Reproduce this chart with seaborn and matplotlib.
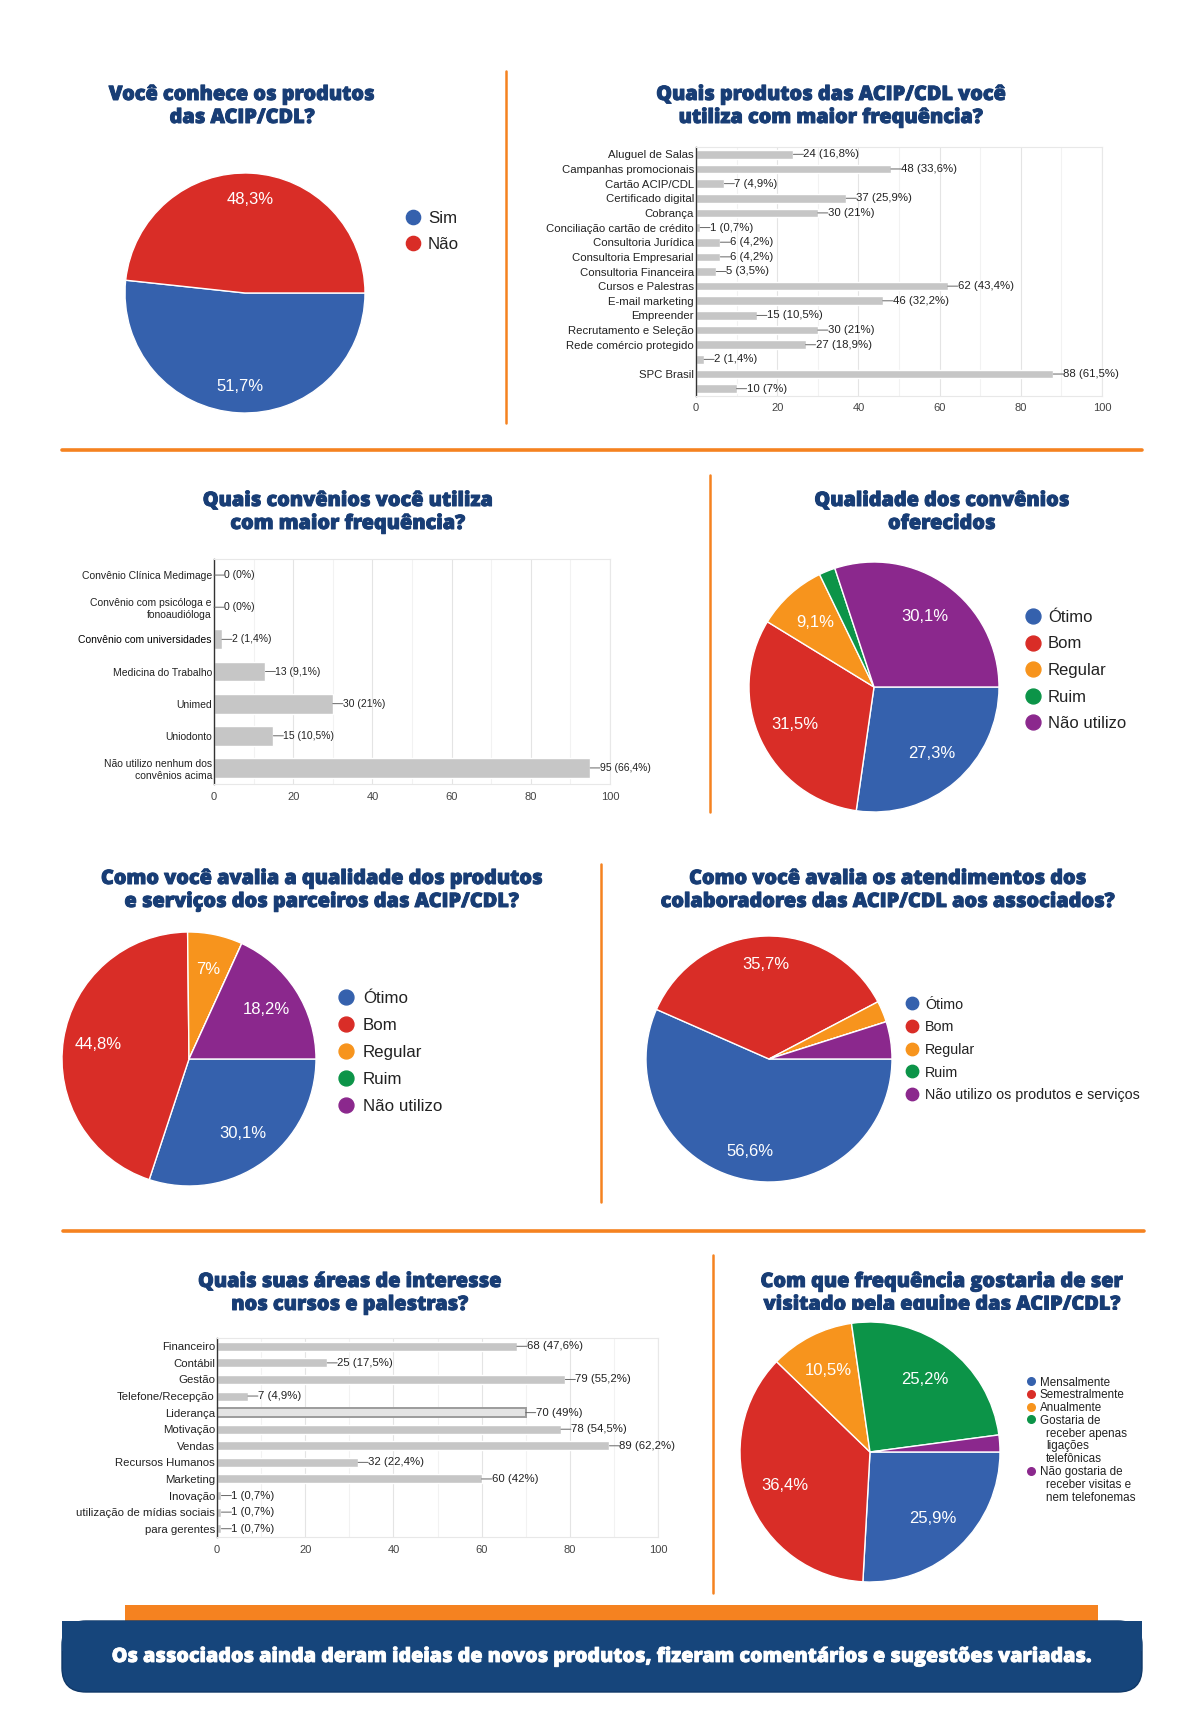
import matplotlib
matplotlib.use("Agg")
import matplotlib.pyplot as plt
import matplotlib.patheffects as pe
from matplotlib.patches import FancyBboxPatch, Rectangle
import seaborn as sns

# dados
produtos = ["Aluguel de Salas", "Campanhas promocionais", "Cartão ACIP/CDL",
            "Certificado digital", "Cobrança", "Conciliação cartão de crédito",
            "Consultoria Jurídica", "Consultoria Empresarial", "Consultoria Financeira",
            "Cursos e Palestras", "E-mail marketing", "Empreender",
            "Recrutamento e Seleção", "Rede comércio protegido", " ", "SPC Brasil", "  "]
produtos_qtd = [24, 48, 7, 37, 30, 1, 6, 6, 5, 62, 46, 15, 30, 27, 2, 88, 10]
produtos_pct = ["16,8%", "33,6%", "4,9%", "25,9%", "21%", "0,7%", "4,2%", "4,2%", "3,5%",
                "43,4%", "32,2%", "10,5%", "21%", "18,9%", "1,4%", "61,5%", "7%"]

convenios = ["Convênio Clínica Medimage", "Convênio com psicóloga e\nfonoaudióloga",
             "Convênio com universidades", "Medicina do Trabalho", "Unimed", "Uniodonto",
             "Não utilizo nenhum dos\nconvênios acima"]
convenios_qtd = [0, 0, 2, 13, 30, 15, 95]
convenios_pct = ["0%", "0%", "1,4%", "9,1%", "21%", "10,5%", "66,4%"]

cursos = ["Financeiro", "Contábil", "Gestão", "Telefone/Recepção", "Liderança", "Motivação",
          "Vendas", "Recursos Humanos", "Marketing", "Inovação",
          "utilização de mídias sociais", "para gerentes"]
cursos_qtd = [68, 25, 79, 7, 70, 78, 89, 32, 60, 1, 1, 1]
cursos_pct = ["47,6%", "17,5%", "55,2%", "4,9%", "49%", "54,5%", "62,2%", "22,4%", "42%",
              "0,7%", "0,7%", "0,7%"]

conhece_labels = ["Sim", "Não"]
conhece_pct = [51.7, 48.3]

escala = ["Ótimo", "Bom", "Regular", "Ruim", "Não utilizo"]
qual_convenios_pct = [27.3, 31.5, 9.1, 2.1, 30.1]
qual_parceiros_pct = [30.1, 44.8, 7.0, 0.0, 18.2]

atend_labels = ["Ótimo", "Bom", "Regular", "Ruim", "Não utilizo os produtos e serviços"]
atend_pct = [56.6, 35.7, 2.8, 0.0, 4.9]

visita_labels = ["Mensalmente", "Semestralmente", "Anualmente",
                 "Gostaria de\nreceber apenas\nligações\ntelefônicas",
                 "Não gostaria de\nreceber visitas e\nnem telefonemas"]
visita_pct = [25.9, 36.4, 10.5, 25.2, 2.1]

cores = ["#3561ad", "#d92d27", "#f7941d", "#0c9448", "#8b288d"]
LARANJA = "#f58220"
AZUL = "#183d75"
AZUL_RODAPE = "#16457b"
CINZA = "#c6c6c6"
TITULO = ["Open Sans", "DejaVu Sans"]
TEXTO = ["Liberation Sans", "DejaVu Sans"]

sns.set_style("white")
plt.rcParams["font.family"] = TEXTO

W, H = 1200, 1729


def caixa(x0, y0, x1, y1):
    return [x0 / W, 1 - y1 / H, (x1 - x0) / W, (y1 - y0) / H]


fig = plt.figure(figsize=(W / 100, H / 100), dpi=100)
bg = fig.add_axes([0, 0, 1, 1])
bg.set_xlim(0, W)
bg.set_ylim(H, 0)
bg.axis("off")


def titulo(x, y, s, clip=None):
    # y = linha de base da primeira linha; 23 px entre linhas
    for j, linha in enumerate(s.split("\n")):
        t = bg.text(x, y + 23 * j, linha, ha="center", va="baseline", fontsize=14.3,
                    fontweight="heavy", color=AZUL, family=TITULO,
                    path_effects=[pe.withStroke(linewidth=0.7, foreground=AZUL)])
        if clip is not None:
            # a segunda linha aparece cortada na base, como no original
            r = Rectangle((x - 300, clip - 100), 600, 100, transform=bg.transData)
            t.set_clip_on(True)
            t.set_clip_path(r)


def barras(rect, labels, qtd, pct, largura, pad, fs):
    ax = fig.add_axes(caixa(*rect))
    sns.barplot(x=qtd, y=labels, orient="h", color=CINZA, saturation=1,
                width=largura, ax=ax)
    ax.set_xlim(0, 100)
    ax.set_xticks(range(0, 101, 20))
    ax.set_xticks(range(10, 100, 20), minor=True)
    ax.grid(axis="x", which="major", color="#e4e4e4", lw=0.8)
    ax.grid(axis="x", which="minor", color="#f2f2f2", lw=0.8)
    ax.grid(axis="y", visible=False)
    ax.set_axisbelow(True)
    ax.set_xlabel("")
    ax.set_ylabel("")
    for lado in ["top", "right", "bottom"]:
        ax.spines[lado].set_color("#e8e8e8")
        ax.spines[lado].set_linewidth(0.8)
    ax.spines["left"].set_color("#333333")
    ax.spines["left"].set_linewidth(1)
    ax.tick_params(axis="y", length=0, pad=1.5, labelsize=fs, labelcolor="#222222")
    ax.tick_params(axis="x", which="both", length=0, pad=pad, labelsize=8,
                   labelcolor="#444444")
    for i, (v, p) in enumerate(zip(qtd, pct)):
        ax.annotate(f"{v} ({p})", xy=(v, i), xytext=(10, 0), textcoords="offset pixels",
                    ha="left", va="center", fontsize=fs, color="#222222",
                    arrowprops=dict(arrowstyle="-", color="#666666", lw=0.7,
                                    shrinkA=0, shrinkB=0, relpos=(0, 0.5), patchA=None))
    return ax


def rotulo(p):
    if p < 5:
        return ""
    s = f"{p:.1f}".replace(".", ",")
    if s.endswith(",0"):
        s = s[:-2]
    return s + "%"


def pizza(cx, cy, r, valores, dist, fs):
    m = 1.02
    ax = fig.add_axes(caixa(cx - r * m, cy - r * m, cx + r * m, cy + r * m))
    ax.pie(valores, colors=cores, startangle=0, counterclock=False, autopct=rotulo,
           pctdistance=dist, wedgeprops=dict(edgecolor="white", linewidth=1),
           textprops=dict(color="white", fontsize=fs))
    ax.set_xlim(-m, m)
    ax.set_ylim(-m, m)
    return ax


def legenda(xm, xt, y0, passo, rotulos, fs, ms, recuo=0):
    k = 0
    for rot, cor in zip(rotulos, cores):
        y = y0 + k * passo
        bg.scatter(xm, y, s=ms, color=cor, zorder=3)
        for j, linha in enumerate(rot.split("\n")):
            bg.text(xt + (recuo if j else 0), y + j * passo, linha, ha="left",
                    va="center_baseline", fontsize=fs, color="#222222")
        k += len(rot.split("\n"))


# linhas laranja
bg.plot([506, 506], [71, 423], color=LARANJA, lw=1.8)
bg.plot([62, 1142], [450, 450], color=LARANJA, lw=2.6)
bg.plot([710, 710], [475, 812], color=LARANJA, lw=1.8)
bg.plot([601, 601], [864, 1202], color=LARANJA, lw=1.8)
bg.plot([63, 1144], [1231, 1231], color=LARANJA, lw=2.6)
bg.plot([713, 713], [1255, 1593], color=LARANJA, lw=1.8)

# títulos
titulo(242, 100, "Você conhece os produtos\ndas ACIP/CDL?")
titulo(831, 100, "Quais produtos das ACIP/CDL você\nutiliza com maior frequência?")
titulo(348, 506, "Quais convênios você utiliza\ncom maior frequência?")
titulo(942, 506, "Qualidade dos convênios\noferecidos")
titulo(322, 884, "Como você avalia a qualidade dos produtos\ne serviços dos parceiros das ACIP/CDL?")
titulo(888, 884, "Como você avalia os atendimentos dos\ncolaboradores das ACIP/CDL aos associados?")
titulo(350, 1287, "Quais suas áreas de interesse\nnos cursos e palestras?")
titulo(942, 1287, "Com que frequência gostaria de ser\nvisitado pela equipe das ACIP/CDL?",
       clip=1309.5)

# gráficos de barras
barras((696, 147, 1102, 396), produtos, produtos_qtd, produtos_pct, 0.59, 5, 8.2)
ax2 = barras((214, 559, 610, 784), convenios, convenios_qtd, convenios_pct, 0.62, 6, 7.5)
ax2.get_yticklabels()[convenios.index("Convênio com universidades")].set_color("#000000")
ax3 = barras((217, 1338, 658, 1537), cursos, cursos_qtd, cursos_pct, 0.54, 6, 8.2)
lid = ax3.patches[cursos.index("Liderança")]
lid.set_facecolor("#e4e4e4")
lid.set_edgecolor("#9c9c9c")
lid.set_linewidth(1.4)

# pizzas
pizza(245, 293, 120, conhece_pct, 0.78, 12)
legenda(413, 428, 217, 26, conhece_labels, 12.2, 105)

pizza(874, 687, 125, qual_convenios_pct, 0.7, 12)
legenda(1033, 1048, 616, 26.5, escala, 12, 115)

pizza(189, 1059, 127, qual_parceiros_pct, 0.72, 12)
legenda(346, 363, 997, 27, escala, 12.2, 115)

pizza(769, 1059, 123, atend_pct, 0.77, 12)
legenda(912, 925, 1003, 22.75, atend_labels, 10.3, 80)

pizza(870, 1452, 130, visita_pct, 0.7, 12)
legenda(1031, 1040, 1381, 12.8, visita_labels, 8.4, 30, recuo=6)

# rodapé
bg.add_patch(Rectangle((125, 1605), 973, 17, color=LARANJA, lw=0))
bg.add_patch(FancyBboxPatch((62, 1621), 1080, 71, boxstyle="round,pad=0,rounding_size=24",
                            facecolor=AZUL_RODAPE, edgecolor="#0f3868", lw=1))
bg.add_patch(Rectangle((62, 1621), 1080, 30, color=AZUL_RODAPE, lw=0))
bg.text(602, 1662, "Os associados ainda deram ideias de novos produtos, fizeram comentários "
        "e sugestões variadas.", ha="center", va="baseline", fontsize=14.2,
        fontweight="heavy", color="white", family=TITULO,
        path_effects=[pe.withStroke(linewidth=0.6, foreground="white")])

fig.savefig("out.png", dpi=100)
